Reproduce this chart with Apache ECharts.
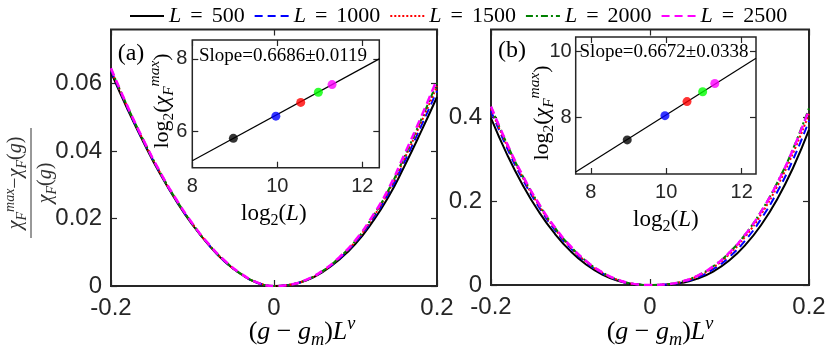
<!DOCTYPE html>
<html>
<head>
<meta charset="utf-8">
<script src="https://cdn.jsdelivr.net/npm/echarts@6/dist/echarts.min.js"></script>
<style>
  html, body { margin: 0; padding: 0; background: #fff; }
  #main { width: 830px; height: 364px; }
</style>
</head>
<body>
<div id="main"></div>
<script>
// 横坐标 (g - g_m) L^nu
var xVals = [-0.2, -0.18, -0.16, -0.14, -0.12, -0.1, -0.08, -0.06, -0.04, -0.02, 0,
    0.02, 0.04, 0.06, 0.08, 0.1, 0.12, 0.14, 0.16, 0.18, 0.2];
var sizeNames = ["L = 500", "L = 1000", "L = 1500", "L = 2000", "L = 2500"];

// 面板 (a)
var aL500 = [0.0633, 0.0525, 0.0425, 0.0333, 0.0252, 0.0181, 0.0121, 0.0071, 0.0034, 0.0009, 0,
    0.0004, 0.0017, 0.0042, 0.0078, 0.0125, 0.0187, 0.0262, 0.0355, 0.0455, 0.0560];
var aL1000 = [0.0638, 0.0529, 0.0428, 0.0336, 0.0254, 0.0183, 0.0122, 0.0072, 0.0035, 0.0009, 0,
    0.0004, 0.0018, 0.0044, 0.0081, 0.0130, 0.0194, 0.0272, 0.0368, 0.0471, 0.0578];
var aL1500 = [0.0641, 0.0531, 0.0430, 0.0337, 0.0255, 0.0184, 0.0123, 0.0073, 0.0035, 0.0010, 0,
    0.0004, 0.0018, 0.0044, 0.0083, 0.0132, 0.0198, 0.0278, 0.0377, 0.0482, 0.0592];
var aL2000 = [0.0643, 0.0533, 0.0431, 0.0338, 0.0256, 0.0184, 0.0123, 0.0073, 0.0035, 0.0010, 0,
    0.0004, 0.0018, 0.0045, 0.0084, 0.0134, 0.0201, 0.0282, 0.0383, 0.0490, 0.0602];
var aL2500 = [0.0645, 0.0534, 0.0432, 0.0339, 0.0257, 0.0185, 0.0124, 0.0074, 0.0036, 0.0010, 0,
    0.0004, 0.0019, 0.0046, 0.0085, 0.0136, 0.0204, 0.0286, 0.0390, 0.0498, 0.0612];

// 面板 (b)
var bL500 = [0.397, 0.3116, 0.2376, 0.1748, 0.1226, 0.0806, 0.0482, 0.0249, 0.0098, 0.0020, 0,
    0.0008, 0.0052, 0.0152, 0.0326, 0.0588, 0.0953, 0.1434, 0.2043, 0.2791, 0.369];
var bL1000 = [0.414, 0.3268, 0.251, 0.1863, 0.1318, 0.0877, 0.0532, 0.0280, 0.0113, 0.0024, 0,
    0.0012, 0.0066, 0.0184, 0.0382, 0.0672, 0.1066, 0.1578, 0.2214, 0.2988, 0.3906];
var bL1500 = [0.4194, 0.3319, 0.2555, 0.1902, 0.1349, 0.0901, 0.0549, 0.0291, 0.0118, 0.0026, 0,
    0.0014, 0.0077, 0.0210, 0.0425, 0.0737, 0.1155, 0.1689, 0.2348, 0.3141, 0.4074];
var bL2000 = [0.424, 0.336, 0.259, 0.193, 0.137, 0.092, 0.0563, 0.0299, 0.0122, 0.0027, 0,
    0.0016, 0.0083, 0.0225, 0.0452, 0.0778, 0.121, 0.176, 0.2435, 0.3245, 0.421];
var bL2500 = [0.425, 0.337, 0.260, 0.194, 0.138, 0.0925, 0.0566, 0.0301, 0.0123, 0.0027, 0,
    0.0016, 0.0083, 0.0224, 0.0450, 0.0774, 0.1205, 0.1753, 0.2424, 0.3228, 0.417];

// 插图: log2(L) 与 log2(chi_F^max)
var logL = [8.966, 9.966, 10.551, 10.966, 11.288];
var insetA = [5.81, 6.42, 6.80, 7.08, 7.29];
var insetB = [7.31, 8.05, 8.48, 8.78, 9.03];
var fitAX = [8, 12.4];
var fitAY = [5.19, 8.0];
var fitBX = [7.6, 12.38];
var fitBY = [6.33, 9.8];

// 刻度
var ticksMainX = [-0.2, 0, 0.2];
var ticksAY = [0, 0.02, 0.04, 0.06];
var ticksBY = [0, 0.2, 0.4];
var ticksInX = [8, 10, 12];
var ticksInAY = [6, 8];
var ticksInBY = [8, 10];

var lineColors = ["#000000", "#0000ff", "#ff0000", "#008000", "#ff00ff"];
var lineTypes = ["solid", [8, 5], [2, 2], [7, 3, 2, 3], [8, 5]];
var lineWidths = [2, 2, 2, 2, 2.5];
var dotColors = ["#000000", "#0000ff", "#ff0000", "#00ff00", "#ff00ff"];

var serif = "Liberation Serif";
var sans = "Liberation Sans";
var axisColor = "#262626";

function zip(xs, ys) {
    return xs.map(function(x, i) { return [x, ys[i]]; });
}

function axis(grid, pos, min, max, ticks, fontSize, showLabel, margin, z) {
    return {
        type: "value",
        gridIndex: grid,
        position: pos,
        min: min,
        max: max,
        z: z,
        // onZero 关掉, 否则刻度会跑到 0 的位置
        axisLine: { show: false, onZero: false },
        splitLine: { show: false },
        axisTick: {
            show: true,
            inside: true,
            length: 6,
            customValues: ticks,
            lineStyle: { color: axisColor, width: 1.2 }
        },
        axisLabel: {
            show: showLabel,
            customValues: ticks,
            margin: margin,
            fontSize: fontSize,
            fontFamily: sans,
            color: axisColor
        }
    };
}

// 上下标的富文本样式
function richStyles(s) {
    return {
        r: { fontFamily: serif, fontSize: s, lineHeight: s * 1.3 },
        i: { fontFamily: serif, fontStyle: "italic", fontSize: s, lineHeight: s * 1.3 },
        sub: { fontFamily: serif, fontStyle: "italic", fontSize: s * 0.7, lineHeight: s * 0.75, verticalAlign: "bottom" },
        subr: { fontFamily: serif, fontSize: s * 0.7, lineHeight: s * 0.75, verticalAlign: "bottom" },
        sup: { fontFamily: serif, fontStyle: "italic", fontSize: s * 0.7, lineHeight: s * 0.75, verticalAlign: "top" }
    };
}

function mathText(x, y, text, size, rot) {
    return {
        type: "text",
        x: x,
        y: y,
        rotation: rot || 0,
        z: 30,
        style: {
            text: text,
            rich: richStyles(size),
            fill: "#000",
            fontFamily: serif,
            fontSize: size,
            align: "center",
            verticalAlign: "middle"
        }
    };
}

// 插图横轴名称
function withName(ax, padRight) {
    ax.name = "{r|log}{subr|2}{r|(}{i|L}{r|)}";
    ax.nameLocation = "middle";
    ax.nameGap = 31;
    ax.nameTextStyle = {
        color: "#000",
        fontFamily: serif,
        fontSize: 23,
        padding: [0, padRight, 0, 0],
        rich: richStyles(23)
    };
    return ax;
}

var xName = "{r|(}{i|g}{r| − }{i|g}{sub|m}{r|)}{i|L}{sup|ν}";
var logChiName = "{r|log}{subr|2}{r|(}{i|χ}{sub|F}{sup|max}{r|)}";

var myChart = echarts.init(document.getElementById("main"));

var series = [];
var dataA = [aL500, aL1000, aL1500, aL2000, aL2500];
var dataB = [bL500, bL1000, bL1500, bL2000, bL2500];
[dataA, dataB].forEach(function(set, p) {
    set.forEach(function(vals, k) {
        series.push({
            name: sizeNames[k],
            type: "line",
            xAxisIndex: p * 2,
            yAxisIndex: p * 2,
            data: zip(xVals, vals),
            smooth: 0.5,
            symbol: "none",
            z: 2 + k * 0.1,
            lineStyle: { color: lineColors[k], type: lineTypes[k], width: lineWidths[k] },
            itemStyle: { color: lineColors[k] }
        });
    });
});

// 插图的拟合线与数据点
[[fitAX, fitAY, insetA, 4], [fitBX, fitBY, insetB, 6]].forEach(function(s) {
    series.push({
        type: "line",
        xAxisIndex: s[3],
        yAxisIndex: s[3],
        data: zip(s[0], s[1]),
        symbol: "none",
        z: 12,
        lineStyle: { color: "#000", width: 1.2 }
    });
    series.push({
        type: "scatter",
        xAxisIndex: s[3],
        yAxisIndex: s[3],
        symbolSize: 9,
        z: 13,
        data: logL.map(function(v, i) {
            return { value: [v, s[2][i]], itemStyle: { color: dotColors[i] } };
        })
    });
});

var option = {
    animation: false,
    legend: {
        data: sizeNames,
        top: 0,
        left: 124,
        itemWidth: 34,
        itemHeight: 14,
        itemGap: 9,
        itemStyle: { opacity: 0 },
        textStyle: {
            fontFamily: serif,
            fontSize: 22,
            color: "#000",
            rich: {
                i: { fontFamily: serif, fontStyle: "italic", fontSize: 22, color: "#000" },
                eq: { fontFamily: serif, fontSize: 22, color: "#000", padding: [0, 9, 0, 9] },
                r: { fontFamily: serif, fontSize: 22, color: "#000" }
            }
        },
        formatter: function(n) {
            var p = n.split(" = ");
            return "{i|" + p[0] + "}{eq|=}{r|" + p[1] + "}";
        }
    },
    grid: [
        { left: 111, top: 29.5, width: 326, height: 256.5, show: true, borderColor: axisColor, borderWidth: 2, backgroundColor: "#fff", z: 0 },
        { left: 491, top: 29.5, width: 318, height: 255.5, show: true, borderColor: axisColor, borderWidth: 2, backgroundColor: "#fff", z: 0 },
        { left: 192.3, top: 40, width: 187, height: 127.7, show: true, borderColor: axisColor, borderWidth: 1.5, backgroundColor: "#fff", z: 10 },
        { left: 575.7, top: 37, width: 180.3, height: 137, show: true, borderColor: axisColor, borderWidth: 1.5, backgroundColor: "#fff", z: 10 }
    ],
    xAxis: [
        axis(0, "bottom", -0.2, 0.2, ticksMainX, 24, true, 10, 1),
        axis(0, "top", -0.2, 0.2, ticksMainX, 24, false, 10, 1),
        axis(1, "bottom", -0.2, 0.2, ticksMainX, 24, true, 10, 1),
        axis(1, "top", -0.2, 0.2, ticksMainX, 24, false, 10, 1),
        withName(axis(2, "bottom", 8, 12.4, ticksInX, 20, true, 9, 11), 24),
        axis(2, "top", 8, 12.4, ticksInX, 20, false, 9, 11),
        withName(axis(3, "bottom", 7.6, 12.38, ticksInX, 20, true, 8, 11), 0),
        axis(3, "top", 7.6, 12.38, ticksInX, 20, false, 8, 11)
    ],
    yAxis: [
        axis(0, "left", 0, 0.076, ticksAY, 24, true, 9, 1),
        axis(0, "right", 0, 0.076, ticksAY, 24, false, 9, 1),
        axis(1, "left", 0, 0.608, ticksBY, 24, true, 9, 1),
        axis(1, "right", 0, 0.608, ticksBY, 24, false, 9, 1),
        axis(2, "left", 5, 8.52, ticksInAY, 20, true, 5, 11),
        axis(2, "right", 5, 8.52, ticksInAY, 20, false, 5, 11),
        axis(3, "left", 6.27, 10.45, ticksInBY, 20, true, 4, 11),
        axis(3, "right", 6.27, 10.45, ticksInBY, 20, false, 4, 11)
    ],
    series: series,
    graphic: [
        mathText(131, 54, "{r|(a)}", 24),
        mathText(512, 51, "{r|(b)}", 24),
        {
            type: "text", x: 283, y: 56, z: 30,
            style: { text: "Slope=0.6686±0.0119", fontFamily: serif, fontSize: 19, fill: "#000", align: "center", verticalAlign: "middle" }
        },
        {
            type: "text", x: 664, y: 52, z: 30,
            style: { text: "Slope=0.6672±0.0338", fontFamily: serif, fontSize: 19, fill: "#000", align: "center", verticalAlign: "middle" }
        },
        mathText(302, 332, xName, 26),
        mathText(660, 332, xName, 26),
        mathText(162, 101, logChiName, 22, Math.PI / 2),
        mathText(542, 113, logChiName, 22, Math.PI / 2),
        {
            // 面板 (a) 的纵轴标题 (分式)
            type: "group",
            x: 31,
            y: 183,
            rotation: Math.PI / 2,
            z: 30,
            children: [
                {
                    type: "line",
                    shape: { x1: -55, y1: 0, x2: 55, y2: 0 },
                    style: { stroke: "#333", lineWidth: 1 }
                },
                {
                    type: "text",
                    x: 0, y: -2,
                    style: {
                        text: "{i|χ}{sub|F}{sup|max}{r|−}{i|χ}{sub|F}{r|(}{i|g}{r|)}",
                        rich: richStyles(20), fill: "#333", fontFamily: serif, fontSize: 20,
                        align: "center", verticalAlign: "bottom"
                    }
                },
                {
                    type: "text",
                    x: 0, y: 2,
                    style: {
                        text: "{i|χ}{sub|F}{r|(}{i|g}{r|)}",
                        rich: richStyles(20), fill: "#333", fontFamily: serif, fontSize: 20,
                        align: "center", verticalAlign: "top"
                    }
                }
            ]
        }
    ]
};

myChart.setOption(option);
window.addEventListener("resize", function() {
    myChart.resize();
});
</script>
</body>
</html>
